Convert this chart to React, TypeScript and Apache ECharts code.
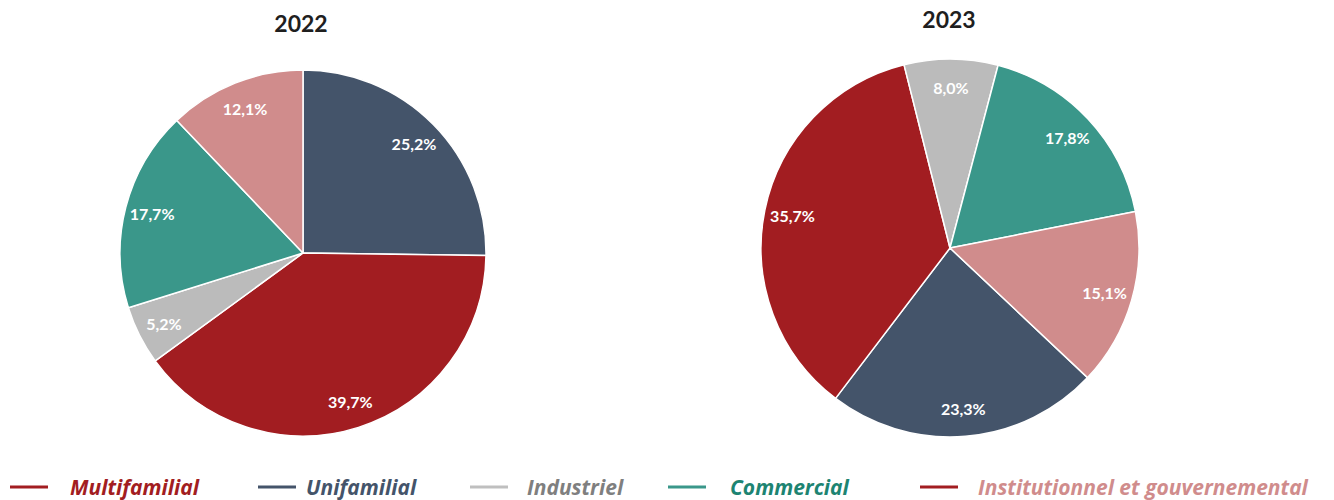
import React, { useEffect, useRef } from "react";
import * as echarts from "echarts";

const categories = ["Unifamilial", "Multifamilial", "Industriel", "Commercial", "Institutionnel et gouvernemental"];
const sliceColors = ["#44546A", "#A21D21", "#BBBBBB", "#3A978A", "#D08C8C"];
const values2022 = [25.2, 39.7, 5.2, 17.7, 12.1];
const values2023 = [23.3, 35.7, 8.0, 17.8, 15.1];
const titles = ["2022", "2023"];

const legendOrder = ["Multifamilial", "Unifamilial", "Industriel", "Commercial", "Institutionnel et gouvernemental"];
const legendLineColors = ["#A21D21", "#44546A", "#BFBFBF", "#3A978A", "#A21D21"];
const legendTextColors = ["#A21D21", "#44546A", "#7F7F7F", "#1D8472", "#D08C8C"];
const legendLineX = [10, 258, 470, 668, 920];
const legendTextX = [70, 306, 527, 730, 978];

const FONT = "Lato, 'Open Sans', sans-serif";
const LEGEND_FONT = "'Open Sans', Lato, sans-serif";

function fmt(v: number) {
  return v.toFixed(1).replace(".", ",") + "%";
}

export default function App() {
  const ref = useRef<HTMLDivElement>(null);
  useEffect(() => {
    document.body.style.margin = "0";
    const chart = echarts.init(ref.current!, undefined, { renderer: "svg" });
    const mkData = (vals: number[]) =>
      vals.map((v, i) => ({ name: categories[i], value: v, itemStyle: { color: sliceColors[i] } }));
    const mkLabelData = (vals: number[]) =>
      vals.map((v, i) => ({ name: categories[i], value: v }));

    const pies = [
      { vals: values2022, center: [303, 253], r: 183, start: 90 },
      { vals: values2023, center: [950, 248], r: 189, start: -43.3 },
    ];
    const series: any[] = [];
    pies.forEach((p) => {
      series.push({
        type: "pie",
        center: p.center,
        radius: [0, p.r],
        startAngle: p.start,
        clockwise: true,
        data: mkData(p.vals),
        itemStyle: { borderColor: "#ffffff", borderWidth: 1.5 },
        label: { show: false },
        labelLine: { show: false },
        silent: true,
      });
      series.push({
        type: "pie",
        center: p.center,
        radius: [p.r * 0.67, p.r],
        startAngle: p.start,
        clockwise: true,
        data: mkLabelData(p.vals),
        itemStyle: { color: "rgba(0,0,0,0)" },
        label: {
          show: true,
          position: "inside",
          formatter: (d: any) => fmt(d.value),
          color: "#ffffff",
          fontFamily: FONT,
          fontWeight: "bold",
          fontSize: 16,
        },
        labelLine: { show: false },
        silent: true,
      });
    });

    const graphic: any[] = [];
    legendOrder.forEach((name, i) => {
      graphic.push({
        type: "line",
        shape: { x1: legendLineX[i], y1: 487, x2: legendLineX[i] + 38, y2: 487 },
        style: { stroke: legendLineColors[i], lineWidth: 3 },
      });
      graphic.push({
        type: "text",
        x: legendTextX[i],
        y: 487,
        style: {
          text: name,
          fill: legendTextColors[i],
          font: `italic bold 21px ${LEGEND_FONT}`,
          verticalAlign: "middle",
        },
      });
    });

    chart.setOption({
      animation: false,
      title: [
        {
          text: titles[0],
          left: 296,
          top: 6,
          textAlign: "center",
          textStyle: { fontFamily: FONT, fontWeight: "bold", fontSize: 23, color: "#1F1F1F" },
        },
        {
          text: titles[1],
          left: 944,
          top: 2,
          textAlign: "center",
          textStyle: { fontFamily: FONT, fontWeight: "bold", fontSize: 23, color: "#1F1F1F" },
        },
      ],
      series,
      graphic,
    });
    return () => chart.dispose();
  }, []);
  return <div ref={ref} style={{ width: 1334, height: 500 }} />;
}
